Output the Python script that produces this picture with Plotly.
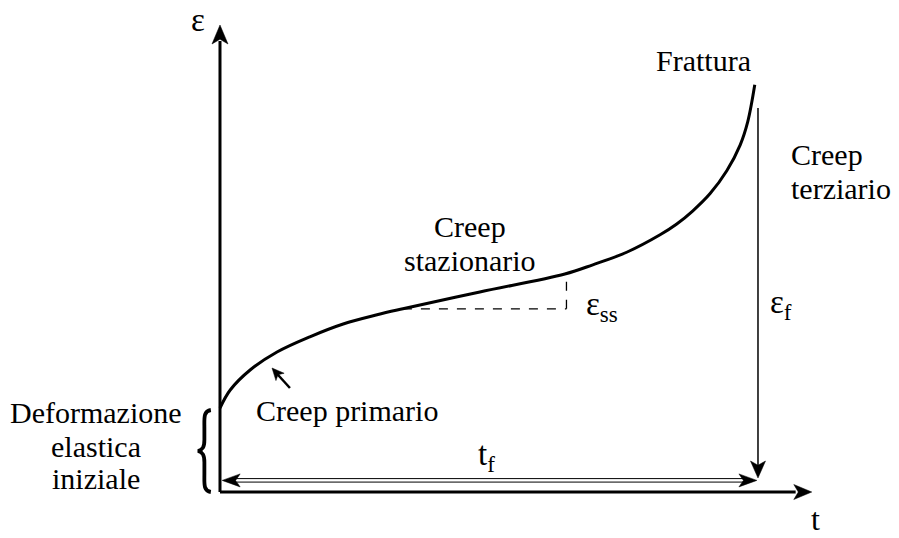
import plotly.graph_objects as go

# Creep curve: strain (eps) versus time (t), arbitrary units, t_f = 100
t_curve = [0, 1.9, 5.6, 10.6, 16.7, 22.9, 29.2, 34.0, 48.3, 64.1, 69.3, 75.7,
           81.8, 84.9, 87.9, 91.1, 94.2, 96.7, 98.1, 99.4]
eps_curve = [21, 25.5, 30.5, 35, 38.8, 42.0, 44.3, 45.8, 50, 54.5, 56.8, 60.0,
             64.3, 67.0, 70.3, 74.6, 80.3, 86.8, 92.6, 101.8]

EPS0 = 20.5            # initial elastic deformation
SS_START, SS_END = 7, 9  # indices bounding the steady-state stretch
T_F = 100.0            # time to fracture
EPS_F_TOP, EPS_F_BOT = 96.0, 3.5
T_ARROW_Y = 2.9        # height of the t_f dimension arrow
T_AXIS_END, E_AXIS_END = 110.0, 116.75

# pixels per data unit (figure is drawn edge to edge)
W, H = 899, 538
KX, KY = 5.38, 4.0
X0, Y0 = -40.89, -11.5
XR = [X0, X0 + W / KX]
YR = [Y0, Y0 + H / KY]

FONT = "Liberation Serif"
INK = "black"

shapes = []


def line(x0, y0, x1, y1, width=1.5, dash=None):
    style = dict(color=INK, width=width)
    if dash:
        style["dash"] = dash
    shapes.append(dict(type="line", xref="x", yref="y", x0=x0, y0=y0, x1=x1, y1=y1,
                       line=style))


def head(tx, ty, dx, dy, length, width):
    """Filled arrowhead with its tip at (tx, ty), pointing along (dx, dy); sizes in px."""
    n = (dx * dx + dy * dy) ** 0.5
    ux, uy = dx / n, dy / n          # direction in px space (y up)
    px, py = -uy, ux
    bx, by = -ux * length, -uy * length
    nx, ny = -ux * length * 0.75, -uy * length * 0.75
    pts = [(0, 0), (bx + px * width / 2, by + py * width / 2), (nx, ny),
           (bx - px * width / 2, by - py * width / 2)]
    path = "M " + " L ".join(f"{tx + a / KX:.4f},{ty + b / KY:.4f}" for a, b in pts) + " Z"
    shapes.append(dict(type="path", xref="x", yref="y", path=path,
                       fillcolor=INK, line=dict(color=INK, width=0.5)))


# axes
line(0, 0, 0, E_AXIS_END - 4, width=3)
head(0, E_AXIS_END, 0, 1, 19, 16)
line(0, 0, T_AXIS_END - 3, 0, width=3)
head(T_AXIS_END, 0, 1, 0, 18, 15)

# steady-state slope triangle
ts, es = t_curve[SS_START], eps_curve[SS_START]
te, ee = t_curve[SS_END], eps_curve[SS_END]
line(ts, es, te + 0.3, es, width=1.3, dash="dash")
line(te + 0.3, es, te + 0.3, ee, width=1.3, dash="dash")

# strain at fracture
line(T_F, EPS_F_TOP, T_F, EPS_F_BOT + 3, width=1.5)
head(T_F, EPS_F_BOT, 0, -1, 17, 15)

# time to fracture (double-stroke dimension arrow)
for off in (0.45, -0.42):
    line(0.6 + 2.5, T_ARROW_Y + off, T_F - 2.5, T_ARROW_Y + off, width=1)
head(0.4, T_ARROW_Y, -1, 0, 18, 13)
head(T_F - 0.2, T_ARROW_Y, 1, 0, 18, 13)

# pointer to the primary stage
line(13.0, 26.0, 10.3, 30.0, width=2.5)
head(9.67, 31.0, -18, 20, 12, 11)

# brace for the initial elastic deformation
bx_out, bx_mid, bx_tip = -1.7, -2.9, -4.1
e_mid = EPS0 / 2
brace = (f"M {bx_out},{EPS0} "
         f"C {bx_mid - 0.2},{EPS0 - 0.3} {bx_mid},{EPS0 - 2} {bx_mid},{EPS0 - 4.5} "
         f"L {bx_mid},{e_mid + 2.8} "
         f"C {bx_mid},{e_mid + 1} {bx_mid - 0.3},{e_mid + 0.3} {bx_tip},{e_mid} "
         f"C {bx_mid - 0.3},{e_mid - 0.3} {bx_mid},{e_mid - 1} {bx_mid},{e_mid - 2.8} "
         f"L {bx_mid},{4.5} "
         f"C {bx_mid},{2} {bx_mid - 0.2},{0.3} {bx_out},{0}")
shapes.append(dict(type="path", xref="x", yref="y", path=brace,
                   line=dict(color=INK, width=3.8)))

fig = go.Figure()
fig.add_trace(go.Scatter(x=t_curve, y=eps_curve, mode="lines",
                         line=dict(color=INK, width=3, shape="spline", smoothing=1.0),
                         hoverinfo="skip", showlegend=False))


def label(x, y, text, size=30, xanchor="center", yanchor="middle"):
    fig.add_annotation(x=x, y=y, xref="x", yref="y", text=text, showarrow=False,
                       xanchor=xanchor, yanchor=yanchor,
                       font=dict(family=FONT, size=size, color=INK))


label(-4.1, 118.0, "ε", size=33)
label(110.6, -6.7, "t", size=32)
label(89.9, 107.8, "Frattura")
label(105.8, 84.5, "Creep", xanchor="left")
label(105.8, 76.0, "terziario", xanchor="left")
label(46.5, 66.3, "Creep")
label(46.5, 58.0, "stazionario")
label(23.6, 20.3, "Creep primario")
label(-23.0, 20.0, "Deformazione")
label(-23.0, 11.5, "elastica")
label(-23.0, 3.3, "iniziale")
label(67.6, 46.5, "ε<sub>ss</sub>", size=33, xanchor="left")
label(101.8, 47.0, "ε<sub>f</sub>", size=33, xanchor="left")
label(49.5, 8.8, "t<sub>f</sub>", size=33)

fig.update_layout(
    width=W, height=H, margin=dict(l=0, r=0, t=0, b=0),
    paper_bgcolor="white", plot_bgcolor="white",
    xaxis=dict(range=XR, visible=False, fixedrange=True),
    yaxis=dict(range=YR, visible=False, fixedrange=True),
    shapes=shapes, showlegend=False,
)

fig.write_html("out.html")
